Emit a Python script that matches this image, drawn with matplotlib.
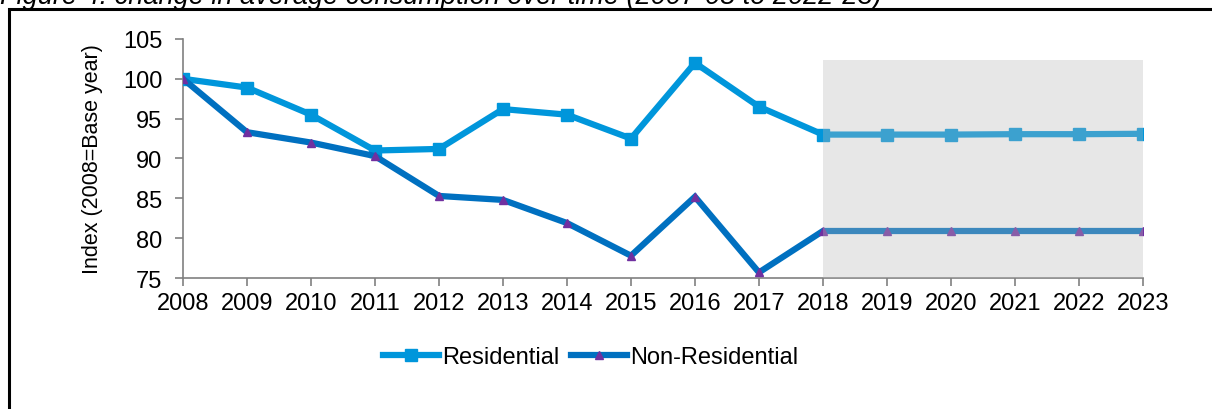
import matplotlib
matplotlib.use("Agg")
import matplotlib.pyplot as plt
from matplotlib.patches import Rectangle

plt.rcParams['font.family'] = ['Liberation Sans', 'DejaVu Sans']

# data
years = [2008, 2009, 2010, 2011, 2012, 2013, 2014, 2015, 2016, 2017,
         2018, 2019, 2020, 2021, 2022, 2023]
residential = [100.0, 98.9, 95.5, 91.0, 91.2, 96.2, 95.5, 92.5, 102.0, 96.5,
               93.0, 93.0, 93.0, 93.05, 93.05, 93.1]
non_residential = [100.0, 93.3, 92.0, 90.3, 85.3, 84.8, 81.9, 77.8, 85.2, 75.7,
                   80.9, 80.9, 80.9, 80.9, 80.9, 80.9]
forecast_start = 2018
forecast_end = 2023
title = "Figure 4: change in average consumption over time (2007-08 to 2022-23)"

fig = plt.figure(figsize=(12.12, 4.10), dpi=100)
ax = fig.add_axes([0.151, 0.3195, 0.792, 0.583])

ax.plot(years, residential, color="#0096db", lw=4.5, marker="s", ms=8,
        mec="#0096db", mfc="#0096db", label="Residential", zorder=3,
        solid_joinstyle="miter")
ax.plot(years, non_residential, color="#0070c0", lw=4.5, marker="^", ms=6,
        mec="#7030a0", mfc="#7030a0", label="Non-Residential", zorder=3,
        solid_joinstyle="miter")

# shaded forecast box drawn over the lines
ax.add_patch(Rectangle((forecast_start, 75), forecast_end - forecast_start, 27.4,
                       facecolor="#b9b9b9", alpha=0.33, edgecolor="none",
                       zorder=4, clip_on=False))

ax.set_xlim(2008, 2023)
ax.set_ylim(75, 105)
ax.set_xticks(years)
ax.set_yticks(range(75, 106, 5))
ax.tick_params(labelsize=17, colors="#808080", labelcolor="black",
               direction="out", length=6, width=1.2)
ax.tick_params(axis="y", pad=9)
ax.tick_params(axis="x", pad=4)
for s in ["top", "right"]:
    ax.spines[s].set_visible(False)
for s in ["left", "bottom"]:
    ax.spines[s].set_color("#808080")
    ax.spines[s].set_linewidth(1.2)
ax.set_ylabel("Index (2008=Base year)", fontsize=15.5, labelpad=14)

fig.legend(loc="center", bbox_to_anchor=(0.487, 0.127), ncol=2, frameon=False,
           fontsize=17, handlelength=2.4, handletextpad=0.1, columnspacing=0.5)

# outer frame and clipped caption
fig.add_artist(Rectangle((9 / 1212, -0.1), 1.1, 1 - 10 / 410 + 0.1,
                         transform=fig.transFigure, fill=False,
                         edgecolor="black", lw=2.2))
fig.text(0.0, 0.99, title, fontsize=19.5, style="italic", va="baseline",
         ha="left")

fig.savefig("out.png", dpi=100)
